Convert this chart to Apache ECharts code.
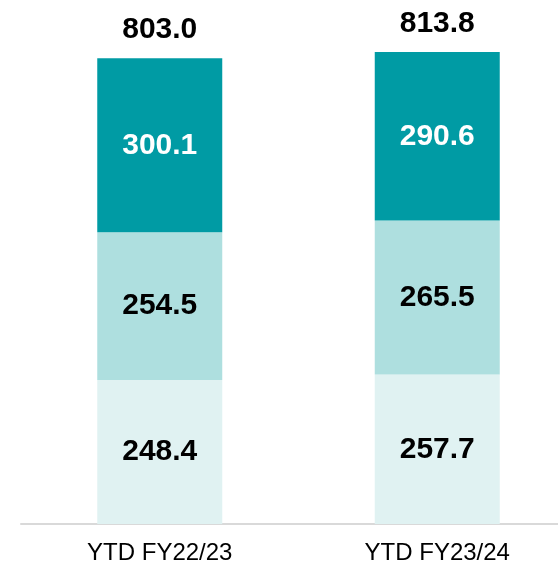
<!DOCTYPE html>
<html>
<head>
<meta charset="utf-8">
<script src="https://cdn.jsdelivr.net/npm/echarts@6/dist/echarts.min.js"></script>
<style>
  html, body { margin: 0; padding: 0; background: #fff; overflow: hidden; }
  #main { width: 576px; height: 566px; }
</style>
</head>
<body>
<div id="main"></div>
<script>
// data
const categories = ['YTD FY22/23', 'YTD FY23/24'];
const bottomVals = [248.4, 257.7];
const middleVals = [254.5, 265.5];
const topVals = [300.1, 290.6];
const totals = [803.0, 813.8];

const FONT = "'Liberation Sans', Arial, sans-serif";

const chart = echarts.init(document.getElementById('main'));

const segLabel = (color) => ({
  show: true,
  position: 'inside',
  color: color,
  fontFamily: FONT,
  fontWeight: 'bold',
  fontSize: 30,
  formatter: (p) => p.value.toFixed(1)
});

const option = {
  animation: false,
  // the plot runs a little past the right edge of the window, as in the reference
  grid: { left: 21, right: 0, top: 31, bottom: 42 },
  xAxis: {
    type: 'category',
    data: categories,
    axisLine: { lineStyle: { color: '#D9D9D9', width: 2 } },
    axisTick: { show: false },
    axisLabel: { color: '#000', fontFamily: FONT, fontSize: 24, margin: 17 }
  },
  yAxis: {
    type: 'value',
    min: 0,
    max: 850,
    show: false,
    splitLine: { show: false }
  },
  series: [
    {
      type: 'bar', stack: 'total', barWidth: 125,
      data: bottomVals,
      itemStyle: { color: '#E0F2F2' },
      label: segLabel('#000')
    },
    {
      type: 'bar', stack: 'total', barWidth: 125,
      data: middleVals,
      itemStyle: { color: '#AEDFDF' },
      label: segLabel('#000')
    },
    {
      type: 'bar', stack: 'total', barWidth: 125,
      data: topVals,
      itemStyle: { color: '#009BA4' },
      label: segLabel('#fff')
    },
    {
      // invisible line carrying the total labels
      type: 'line',
      data: totals,
      symbol: 'circle',
      symbolSize: 1,
      itemStyle: { color: 'rgba(0,0,0,0)' },
      lineStyle: { opacity: 0 },
      label: {
        show: true,
        position: 'top',
        distance: 13,
        color: '#000',
        fontFamily: FONT,
        fontWeight: 'bold',
        fontSize: 30,
        formatter: (p) => p.value.toFixed(1)
      },
      z: 5
    }
  ]
};

chart.setOption(option);
</script>
</body>
</html>
